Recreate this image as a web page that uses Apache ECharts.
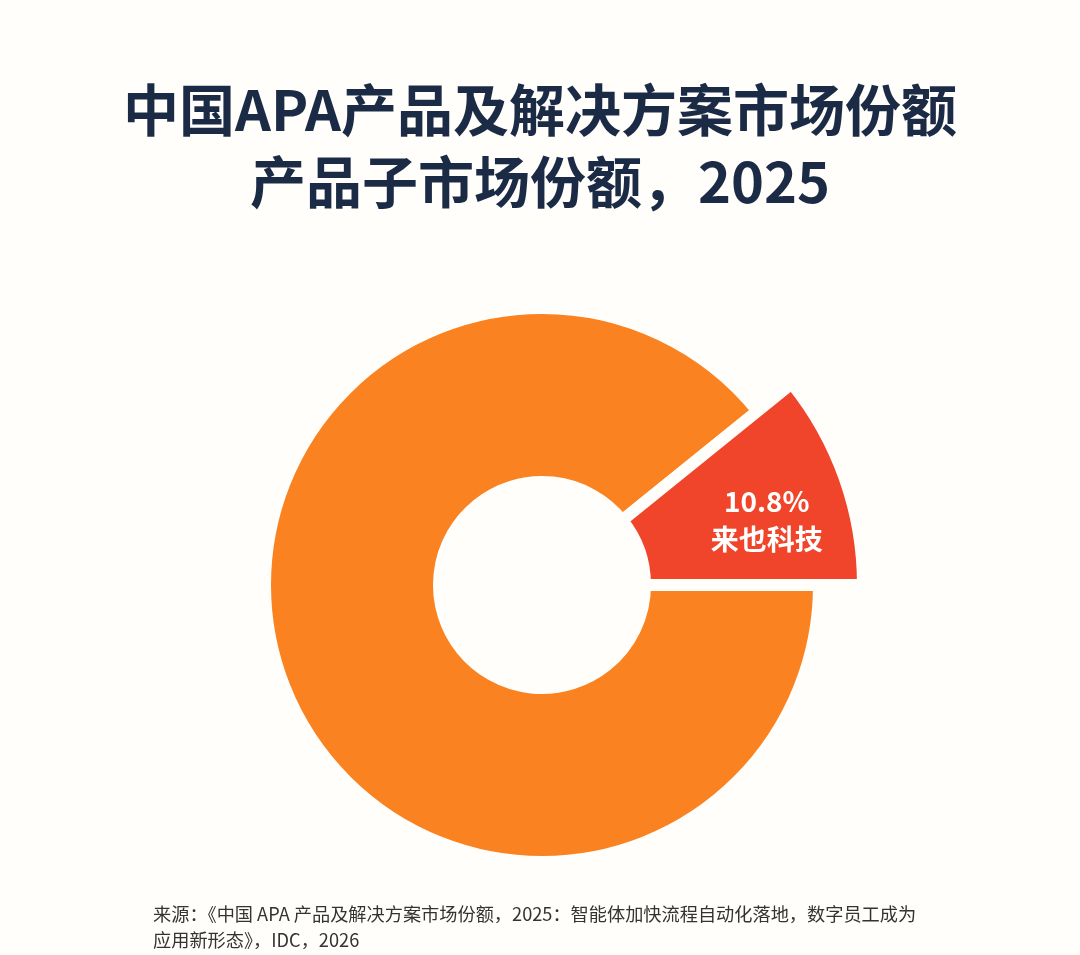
<!DOCTYPE html>
<html>
<head>
<meta charset="utf-8">
<title>中国APA产品及解决方案市场份额</title>
<script src="https://cdn.jsdelivr.net/npm/echarts@6/dist/echarts.min.js"></script>
<style>
  html, body { margin: 0; padding: 0; background: #fffefb; }
  #main { width: 1080px; height: 955px; }
</style>
</head>
<body>
<div id="main"></div>
<script>
// 数据
const vendors = ["来也科技", "其他"];
const shares = [10.8, 89.2];
const sliceColors = ["#f1452b", "#fa8220"];

let myChart = echarts.init(document.getElementById("main"));

// 每个系列只显示一块，另一块透明，这样来也科技那块可以画得更大
function makeData(showIndex) {
  return vendors.map((name, i) => {
    let visible = i === showIndex;
    return {
      name: name,
      value: shares[i],
      itemStyle: visible
        ? { color: sliceColors[i] }
        : { color: "rgba(0,0,0,0)", borderWidth: 0 },
      label: { show: visible && i === 0 }
    };
  });
}

let gap = 12; // 两块之间的白缝

let option = {
  backgroundColor: "#fffefb",
  animation: false,
  title: [
    {
      text: "中国APA产品及解决方案市场份额",
      left: "center",
      top: 77,
      textStyle: {
        fontFamily: "Noto Sans CJK SC",
        fontSize: 56,
        fontWeight: "bold",
        color: "#1b2a45"
      }
    },
    {
      text: "产品子市场份额，2025",
      left: "center",
      top: 149,
      textStyle: {
        fontFamily: "Noto Sans CJK SC",
        fontSize: 56,
        fontWeight: "bold",
        color: "#1b2a45"
      }
    },
    {
      text: "来源：《中国 APA 产品及解决方案市场份额，2025：智能体加快流程自动化落地，数字员工成为\n应用新形态》，IDC，2026",
      left: 148,
      top: 896,
      textStyle: {
        fontFamily: "Noto Sans CJK SC",
        fontSize: 18.2,
        fontWeight: "normal",
        color: "#333333",
        lineHeight: 26
      }
    }
  ],
  series: [
    {
      name: "其他",
      type: "pie",
      center: [542, 585],
      radius: [109 - gap / 2, 271 + gap / 2],
      startAngle: 38.9,
      clockwise: true,
      silent: true,
      itemStyle: { borderColor: "#fffefb", borderWidth: gap },
      label: { show: false },
      labelLine: { show: false },
      data: makeData(1)
    },
    {
      name: "产品子市场份额",
      type: "pie",
      center: [542, 585],
      radius: [109 - gap / 2, 315 + gap / 2],
      startAngle: 38.9,
      clockwise: true,
      silent: true,
      itemStyle: { borderColor: "#fffefb", borderWidth: gap },
      label: {
        position: "inside",
        formatter: "{c}%\n{b}",
        color: "#ffffff",
        fontFamily: "Noto Sans CJK SC",
        fontSize: 28,
        fontWeight: "bold",
        lineHeight: 38,
        offset: [22, 7]
      },
      labelLine: { show: false },
      data: makeData(0)
    }
  ]
};

myChart.setOption(option);
</script>
</body>
</html>
